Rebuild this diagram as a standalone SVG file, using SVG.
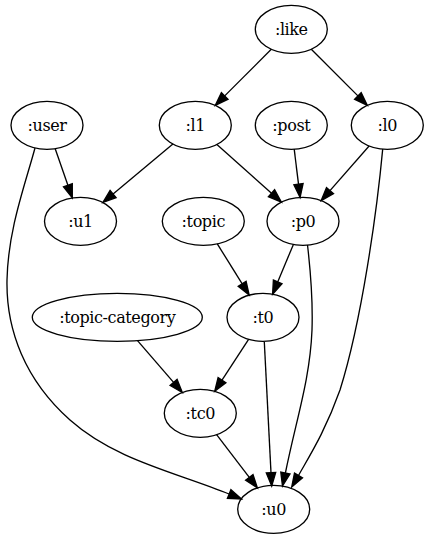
<svg xmlns="http://www.w3.org/2000/svg" width="429" height="539" viewBox="0 0 429 539">
<style>
.n ellipse{fill:none;stroke:#000;stroke-width:1.33}
.n text{font-family:"DejaVu Serif","Liberation Serif","Times New Roman",serif;font-size:16px;letter-spacing:-0.4px;text-anchor:middle;fill:#000}
.e path{fill:none;stroke:#000;stroke-width:1.33}
.e polygon{fill:#000;stroke:#000;stroke-width:1.33}
</style>
<rect width="429" height="539" fill="#fff"/>
<g id="edges" class="e">
<path d="M271.3,49.3 L224.7,95.9"/><polygon points="215.3,105.3 228.0,99.2 221.4,92.6"/>
<path d="M311.3,49.3 L357.9,95.9"/><polygon points="367.3,105.3 354.6,99.2 361.2,92.6"/>
<path d="M55.2,148.7 L67.9,185.3"/><polygon points="72.3,197.9 72.3,183.8 63.5,186.8"/>
<path d="M172.9,144.1 L113.1,194.0"/><polygon points="102.9,202.5 116.1,197.6 110.1,190.4"/>
<path d="M216.9,144.5 L271.5,193.2"/><polygon points="281.4,202.1 268.4,196.7 274.6,189.7"/>
<path d="M294.2,149.2 L298.5,184.2"/><polygon points="300.1,197.4 303.1,183.6 293.9,184.7"/>
<path d="M369.1,146.0 L330.0,190.6"/><polygon points="321.2,200.6 333.5,193.7 326.5,187.5"/>
<path d="M217.3,243.9 L242.2,283.8"/><polygon points="249.2,295.1 246.1,281.3 238.2,286.3"/>
<path d="M293.4,244.4 L277.7,281.9"/><polygon points="272.6,294.2 282.0,283.7 273.4,280.1"/>
<path d="M137.5,340.6 L173.6,382.4"/><polygon points="182.3,392.5 177.1,379.4 170.1,385.5"/>
<path d="M248.6,339.3 L222.0,380.1"/><polygon points="214.7,391.3 225.9,382.7 218.1,377.6"/>
<path d="M216.6,434.7 L249.3,477.3"/><polygon points="257.4,487.9 253.0,474.5 245.6,480.1"/>
<path d="M264.3,341.7 L271.0,472.7"/><polygon points="271.7,486 275.7,472.5 266.3,472.9"/>
<path d="M307.5,245 C311,275 313,300 312,330 C310,380 296,420 285.4,473"/><polygon points="282.5,486 290.0,474.0 280.8,472.0"/>
<path d="M382.7,149.1 C377,210 362,320 340,390 C325,432 310,455 298.5,475.5"/><polygon points="291.7,487 302.5,477.9 294.5,473.1"/>
<path d="M35,148 C25,185 8,230 7,280 C6,330 25,380 70,420 C115,460 175,472 229.1,494.0"/><polygon points="241.5,499 230.9,489.7 227.4,498.4"/>
</g>
<g id="like" class="n"><ellipse cx="291.3" cy="29.3" rx="36" ry="24"/><text x="291.3" y="35.3">:like</text></g>
<g id="user" class="n"><ellipse cx="47" cy="125.3" rx="36" ry="24"/><text x="47" y="131.3">:user</text></g>
<g id="l1" class="n"><ellipse cx="195.3" cy="125.3" rx="36" ry="24"/><text x="195.3" y="131.3">:l1</text></g>
<g id="post" class="n"><ellipse cx="291.3" cy="125.3" rx="36" ry="24"/><text x="291.3" y="131.3">:post</text></g>
<g id="l0" class="n"><ellipse cx="387.3" cy="125.3" rx="36" ry="24"/><text x="387.3" y="131.3">:l0</text></g>
<g id="u1" class="n"><ellipse cx="80.5" cy="221.3" rx="36" ry="24"/><text x="80.5" y="227.3">:u1</text></g>
<g id="topic" class="n"><ellipse cx="203.3" cy="221.3" rx="41" ry="24"/><text x="203.3" y="227.3">:topic</text></g>
<g id="p0" class="n"><ellipse cx="303" cy="221.3" rx="36" ry="24"/><text x="303" y="227.3">:p0</text></g>
<g id="topic-category" class="n"><ellipse cx="117.3" cy="317.3" rx="85" ry="24"/><text x="117.3" y="323.3">:topic-category</text></g>
<g id="t0" class="n"><ellipse cx="263" cy="317.3" rx="36" ry="24"/><text x="263" y="323.3">:t0</text></g>
<g id="tc0" class="n"><ellipse cx="200.3" cy="413.3" rx="36" ry="24"/><text x="200.3" y="419.3">:tc0</text></g>
<g id="u0" class="n"><ellipse cx="273.7" cy="509.3" rx="36" ry="24"/><text x="273.7" y="515.3">:u0</text></g>
</svg>
